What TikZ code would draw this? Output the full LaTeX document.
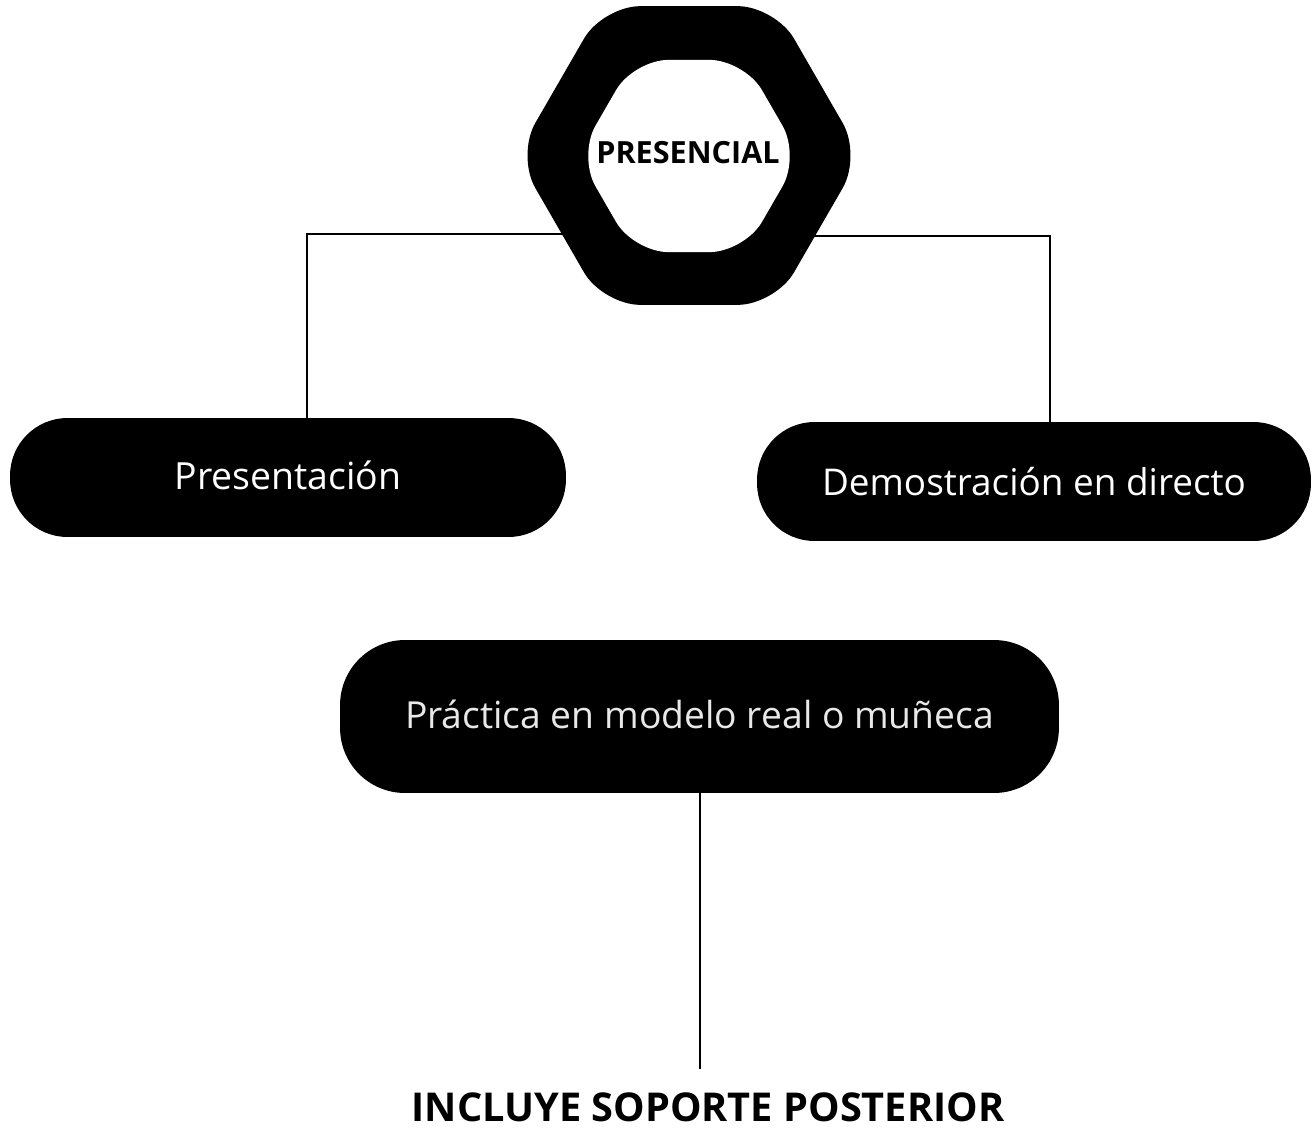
\documentclass[tikz,border=0pt]{standalone}
\usepackage{fontspec}
\setmainfont{Open Sans}
\usepackage{xcolor}
\usetikzlibrary{shapes.geometric,backgrounds}
\definecolor{softwhite}{HTML}{E8E8E8}
\tikzset{
	pill/.style={fill=black, text=white, inner sep=0pt, minimum height=2.38cm, rounded corners=1.15cm},
	hexring/.style={regular polygon, regular polygon sides=6, fill=black, inner sep=0pt},
	link/.style={line width=1.1pt}
}
\begin{document}
\begin{tikzpicture}[x=0.02cm,y=-0.02cm]
		\useasboundingbox (0,0) rectangle (1313,1130);
		\node[hexring, minimum size=6.9cm, rounded corners=0.75cm] (hexa) at (689,155.5) {};
		\node[hexring, fill=white, minimum size=4.44cm, rounded corners=0.7cm] (hexin) at (689,156) {};
		\node[font=\fontsize{17.4}{20}\selectfont\bfseries, inner sep=0pt] (presencial) at (688,153) {PRESENCIAL};
		\node[pill, minimum width=11.12cm, font=\fontsize{21.3}{24}\selectfont] (pres) at (288,477.5) {\raisebox{0.08cm}{Presentación}};
		\node[pill, minimum width=11.08cm, font=\fontsize{21}{24}\selectfont] (demo) at (1034,481.5) {Demostración en directo};
		\node[pill, minimum width=14.38cm, minimum height=3.06cm, rounded corners=1.3cm, text=softwhite, font=\fontsize{21.2}{26}\selectfont] (prac) at (699.5,716.5) {\raisebox{0.1cm}{Práctica en modelo real o muñeca}};
		\node[font=\fontsize{22.6}{26}\selectfont\bfseries, inner sep=0pt, text depth=0pt, anchor=base] (incl) at (708,1121) {INCLUYE SOPORTE POSTERIOR};
		\coordinate (pl) at (307,234);
		\coordinate (pr) at (1050,236);
		\coordinate (pb) at (700,1069);
		\begin{scope}[on background layer]
			\draw[link] (pres.north -| pl) -- (pl) -- (pl -| hexa.center);
			\draw[link] (demo.north -| pr) -- (pr) -- (pr -| hexa.center);
		\end{scope}
		\draw[link] (prac.south -| pb) -- (pb);
	\end{tikzpicture}
\end{document}
